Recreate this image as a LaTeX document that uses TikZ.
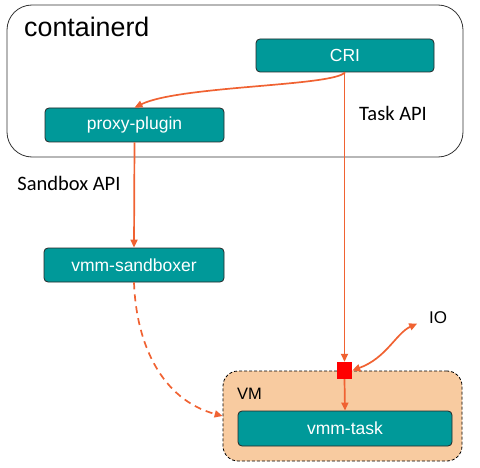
\documentclass[tikz,border=0pt]{standalone}
\usepackage{fontspec}
\setmainfont{Liberation Sans}
\newfontfamily\apifont{Carlito}
\usetikzlibrary{arrows.meta}

\definecolor{boxteal}{RGB}{0,153,153}
\definecolor{lineorange}{RGB}{240,98,50}
\definecolor{vmpeach}{RGB}{248,203,160}

\tikzset{
  box/.style = {draw = black!85, fill = boxteal, text = white, rounded corners = 4pt,
    line width = 0.8pt, inner sep = 0pt, font = \fontsize{17.5}{20}\selectfont},
  flow/.style = {draw = lineorange, line width = 1.7pt,
    -{Triangle[length = 8pt, width = 7pt]}},
  api/.style = {font = \apifont\fontsize{20.5}{24}\selectfont}
}

\begin{document}
\begin{tikzpicture}[x = 1pt, y = 1pt]
    \useasboundingbox (0, 0) rectangle (480, 467);
    % containerd
    \draw [draw = black!80, line width = 0.8pt, rounded corners = 25pt] (7, 462) rectangle (463, 310);
    \node [anchor = base west, inner sep = 0pt, font = \fontsize{26.8}{30}\selectfont] (ctd) at (24, 430) {containerd};
    \node [box, minimum width = 178pt, minimum height = 33pt] (cri) at (345, 411.5) {CRI};
    \node [box, minimum width = 179pt, minimum height = 34pt] (proxy) at (134.5, 342) {proxy-plugin};
    \node [api] (task) at (393, 354) {Task API};
    \node [api] (sbapi) at (69, 284) {Sandbox API};
    \node [box, minimum width = 180pt, minimum height = 34pt] (sandboxer) at (134, 202) {vmm-sandboxer};
    % VM
    \node [draw = black, fill = vmpeach, dashed, dash pattern = on 3pt off 2pt, line width = 0.8pt,
      rounded corners = 15pt, minimum width = 239pt, minimum height = 90pt] (vm) at (342.5, 51) {};
    \node [anchor = west, inner sep = 0pt, font = \fontsize{16.5}{19}\selectfont] (vmlabel) at (237, 73) {VM};
    \node [box, minimum width = 214pt, minimum height = 35pt] (task-box) at (345, 38.5) {vmm-task};
    \node [fill = red, inner sep = 0pt, minimum width = 15pt, minimum height = 17pt] (port) at (344.5, 96.5) {};
    \node [anchor = west, inner sep = 0pt, font = \fontsize{17}{20}\selectfont] (io) at (429, 149) {IO};
    % arrows
    \draw [flow] (cri.south) .. controls +(-12, -14) and +(45, 22) .. (proxy.north);
    \draw [flow] (port.north |- cri.south) -- (port.north);
    \draw [flow] (port.south) -- (task-box.north);
    \draw [flow] (proxy.south) -- (sandboxer.north);
    \draw [flow, dashed, dash pattern = on 7pt off 5pt] (sandboxer.south) to [out = -88, in = 165] (vm.west);
    \draw [flow, {Triangle[length = 8pt, width = 7pt]}-{Triangle[length = 8pt, width = 7pt]}, shorten > = 13pt]
      (port.east) to [out = 20, in = 205] (io.west);
\end{tikzpicture}
\end{document}
